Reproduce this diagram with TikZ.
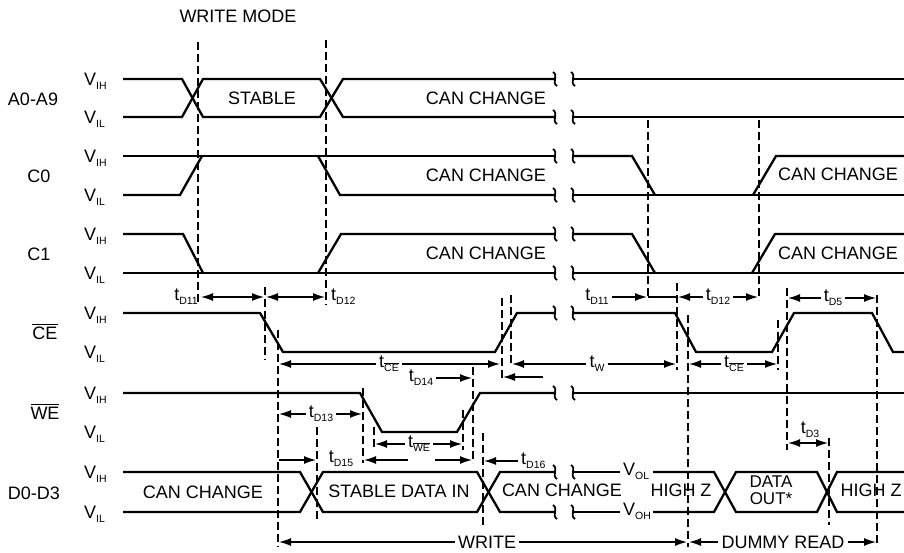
\documentclass[tikz,border=0pt]{standalone}
\usepackage{fontspec}
\setmainfont{Liberation Sans}
\usetikzlibrary{arrows.meta}

\newcommand{\sub}[1]{\raisebox{-0.45ex}{\fontsize{10.5}{11}\selectfont #1}}
\newcommand{\ovl}[1]{\vbox{\hrule height 0.06em\kern0.13em\hbox{#1}}}
\newcommand{\brk}[2]{\draw[line width=1.8pt] (#1-2,#2-7) .. controls (#1+4,#2-3) and (#1-4,#2+3) .. (#1+2,#2+7);}

\begin{document}
\begin{tikzpicture}[x=1pt, y=-1pt, font=\fontsize{18}{16}\selectfont,
    every node/.style={inner sep=1pt},
    sig/.style={line width=2.3pt},
    guide/.style={line width=1.4pt, dash pattern=on 8pt off 4pt},
    dimarr/.style={line width=1.3pt, -{Latex[length=12pt,width=8pt]}},
    dimboth/.style={line width=1.3pt, {Latex[length=12pt,width=8pt]}-{Latex[length=12pt,width=8pt]}},
    tlabel/.style={inner sep=3pt},
    lvl/.style={anchor=base west, inner sep=0pt}]
    \useasboundingbox (0,0) rectangle (904,552);

    % Mode and signal names
    \node (mode) at (238,16) {WRITE MODE};
    \node (nA) at (33,99) {A0-A9};
    \node (nC0) at (39,176) {C0};
    \node (nC1) at (39,254) {C1};
    \node (nCE) at (45,332) {\ovl{CE}};
    \node (nWE) at (45,412) {\ovl{WE}};
    \node (nD) at (34,493) {D0-D3};

    % Levels
    \foreach \h/\l in {79/117, 156/195, 234/273, 313/352, 393/432, 472/512} {
        \node[lvl] (vih-\h) at (84,\h+6) {V\sub{IH}};
        \node[lvl] (vil-\l) at (84,\l+6) {V\sub{IL}};
    }

    % A0-A9
    \draw[sig] (123,79) -- (182,79) -- (203,117) -- (320,117) -- (343,79) -- (555,79);
    \draw[sig] (123,117) -- (182,117) -- (203,79) -- (320,79) -- (343,117) -- (555,117);
    \draw[sig] (573,79) -- (904,79);
    \draw[sig] (573,117) -- (904,117);
    \node (aStable) at (262,98) {STABLE};
    \node (aChange) at (486,98) {CAN CHANGE};

    % C0
    \draw[sig] (123,156) -- (555,156);
    \draw[sig] (123,195) -- (180,195) -- (202,156);
    \draw[sig] (318,156) -- (340,195) -- (555,195);
    \draw[sig] (573,156) -- (632,156) -- (655,195);
    \draw[sig] (573,195) -- (904,195);
    \draw[sig] (753,195) -- (776,156) -- (904,156);
    \node (c0ChangeA) at (486,175) {CAN CHANGE};
    \node (c0ChangeB) at (838,174) {CAN CHANGE};

    % C1
    \draw[sig] (123,234) -- (183,234) -- (203,273);
    \draw[sig] (123,273) -- (555,273);
    \draw[sig] (318,273) -- (341,234) -- (555,234);
    \draw[sig] (573,234) -- (632,234) -- (655,273);
    \draw[sig] (573,273) -- (904,273);
    \draw[sig] (752,273) -- (775,234) -- (904,234);
    \node (c1ChangeA) at (486,253) {CAN CHANGE};
    \node (c1ChangeB) at (838,253) {CAN CHANGE};

    % CE
    \draw[sig] (123,313) -- (260,313) -- (283,352) -- (495,352) -- (517,313) -- (555,313);
    \draw[sig] (573,313) -- (675,313) -- (696,352) -- (772,352) -- (794,313) -- (872,313) -- (893,352) -- (904,352);

    % WE
    \draw[sig] (123,393) -- (360,393) -- (382,432) -- (457,432) -- (480,393) -- (555,393);
    \draw[sig] (573,393) -- (904,393);

    % D0-D3
    \draw[sig] (123,472) -- (300,472) -- (323,512) -- (477,512) -- (500,472) -- (555,472);
    \draw[sig] (123,512) -- (300,512) -- (323,472) -- (477,472) -- (500,512) -- (555,512);
    \node[lvl] (vol) at (623,475) {V\sub{OL}};
    \node[lvl] (voh) at (623,515) {V\sub{OH}};
    \draw[sig] (573,472) -- (620,472);
    \draw[sig] (653,472) -- (714,472) -- (736,512) -- (817,512) -- (837,472) -- (904,472);
    \draw[sig] (573,512) -- (620,512);
    \draw[sig] (653,512) -- (714,512) -- (736,472) -- (817,472) -- (837,512) -- (904,512);
    \node (dChangeA) at (203,492) {CAN CHANGE};
    \node (dStable) at (399,491) {STABLE DATA IN};
    \node (dChangeB) at (562,490) {CAN CHANGE};
    \node (dHighA) at (681,490) {HIGH Z};
    \node[align=center, font=\fontsize{17}{17.5}\selectfont] (dOut) at (771,490) {DATA\\OUT*};
    \node (dHighB) at (871,490) {HIGH Z};

    % Breaks
    \foreach \y in {79,117,156,195,234,273,313,393,472,512} {
        \brk{555}{\y}
        \brk{573}{\y}
    }

    % Guide lines
    \foreach \x/\a/\b in {198/42/303, 326/40/305, 265/287/360, 278/330/547, 317/427/520,
        363/388/463, 374/427/450, 463/410/450, 473/367/463, 483/433/528, 502/298/380,
        511/295/363, 648/120/300, 759/120/300, 677/283/370, 688/315/547, 778/320/370,
        787/288/450, 829/438/525, 877/295/547}
        \draw[guide] (\x,\a) -- (\x,\b);

    % Timing, write cycle
    \node[anchor=east] (tD11a) at (199,297) {t\sub{D11}};
    \draw[dimboth] (201,297) -- (264,297);
    \draw[dimboth] (266,297) -- (325,297);
    \node[anchor=west] (tD12a) at (330,297) {t\sub{D12}};
    \node[tlabel] (tCEa) at (389,364) {t\sub{\ovl{CE}}};
    \draw[dimarr] (tCEa.west) -- (279,364);
    \draw[dimarr] (tCEa.east) -- (500,364);
    \node[tlabel] (tD14) at (421,378) {t\sub{D14}};
    \draw[dimarr] (tD14.east) -- (472,378);
    \node[tlabel] (tD13) at (321,414) {t\sub{D13}};
    \draw[dimarr] (tD13.west) -- (279,414);
    \draw[dimarr] (tD13.east) -- (362,414);
    \node[tlabel] (tWE) at (419,444) {t\sub{\ovl{WE}}};
    \draw[dimarr] (tWE.west) -- (375,444);
    \draw[dimarr] (tWE.east) -- (462,444);
    \draw[dimarr] (279,460) -- (316,460);
    \node (tD15) at (341,459) {t\sub{D15}};
    \draw[dimarr] (408,460) -- (364,460);
    \draw[dimarr] (435,460) -- (472,460);
    \node[tlabel, anchor=west] (tD16) at (518,461) {t\sub{D16}};
    \draw[dimarr] (tD16.west) -- (484,461);
    \node[tlabel] (tW) at (597,364) {t\sub{W}};
    \draw[dimarr] (tW.west) -- (512,364);
    \draw[dimarr] (tW.east) -- (676,364);
    \draw[dimarr] (543,377) -- (503,377);

    % Timing, dummy read
    \node[tlabel] (tD11b) at (597,297) {t\sub{D11}};
    \draw[dimarr] (tD11b.east) -- (647,297);
    \draw[line width=1.3pt] (648,297) -- (677,297);
    \node[tlabel] (tD12b) at (718,297) {t\sub{D12}};
    \draw[dimarr] (tD12b.west) -- (678,297);
    \draw[dimarr] (tD12b.east) -- (758,297);
    \node[tlabel] (tD5) at (833,298) {t\sub{D5}};
    \draw[dimarr] (tD5.west) -- (788,298);
    \draw[dimarr] (tD5.east) -- (876,298);
    \node[tlabel] (tCEb) at (734,364) {t\sub{\ovl{CE}}};
    \draw[dimarr] (tCEb.west) -- (689,364);
    \draw[dimarr] (tCEb.east) -- (777,364);
    \node (tD3) at (810,430) {t\sub{D3}};
    \draw[dimboth] (788,443) -- (828,443);

    % Cycles
    \node[tlabel] (write) at (487,542) {WRITE};
    \draw[dimarr] (write.west) -- (279,542);
    \draw[dimarr] (write.east) -- (687,542);
    \node[tlabel] (dummy) at (783,542) {DUMMY READ};
    \draw[dimarr] (dummy.west) -- (689,542);
    \draw[dimarr] (dummy.east) -- (876,542);
\end{tikzpicture}
\end{document}
